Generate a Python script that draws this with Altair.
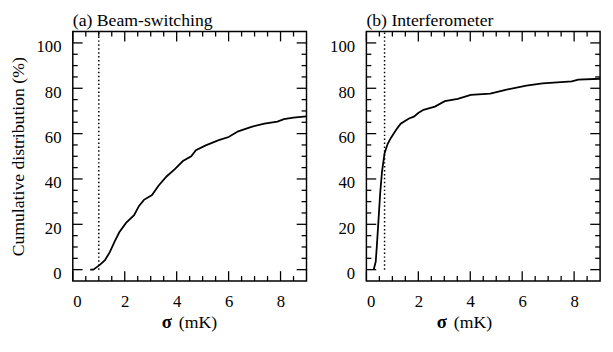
import altair as alt
import pandas as pd

# ---- data ----
sigma_a = [0.67, 0.79, 1.04, 1.23, 1.42, 1.61, 1.79, 2.05, 2.36, 2.55, 2.74, 3.05, 3.30,
           3.61, 3.93, 4.24, 4.56, 4.74, 5.12, 5.62, 6.00, 6.37, 6.88, 7.38, 7.88, 8.13,
           8.50, 8.89, 9.00]
cum_a = [0.0, 0.0, 2.1, 4.1, 7.6, 12.4, 16.5, 20.6, 24.0, 28.1, 30.8, 32.9, 37.0,
         41.1, 44.3, 47.9, 50.0, 52.7, 54.8, 57.1, 58.5, 61.0, 63.0, 64.4, 65.3, 66.4,
         67.1, 67.5, 67.6]

sigma_b = [0.28, 0.36, 0.41, 0.47, 0.53, 0.60, 0.70, 0.82, 0.95, 1.14, 1.32, 1.64, 1.83,
           2.01, 2.20, 2.64, 3.02, 3.52, 4.02, 4.77, 5.40, 6.16, 6.78, 7.91, 8.16, 9.00]
cum_b = [0.0, 3.5, 11.7, 22.6, 33.6, 43.1, 51.4, 55.5, 58.2, 61.6, 64.4, 66.7, 67.5,
         69.2, 70.5, 71.9, 74.3, 75.3, 77.1, 77.6, 79.4, 81.2, 82.2, 83.0, 83.8, 84.2]

threshold_a = 1.0
threshold_b = 0.7

titles = ["(a) Beam-switching", "(b) Interferometer"]
x_title_sym = "σ"
x_title_unit = "(mK)"
y_title = "Cumulative distribution (%)"

x_major = [0, 2, 4, 6, 8]
x_minor = [0.5, 1, 1.5, 2.5, 3, 3.5, 4.5, 5, 5.5, 6.5, 7, 7.5, 8.5]
y_major = [0, 20, 40, 60, 80, 100]
y_minor = [5, 10, 15, 25, 30, 35, 45, 50, 55, 65, 70, 75, 85, 90, 95]
x_domain = [0, 9]
y_domain = [-5, 105]

W, H = 238, 254
FONT = "Liberation Serif"


def panel(sig, cum, thr, title, show_ytitle, sym_right):
    xs = alt.Scale(domain=x_domain, nice=False, zero=False)
    ys = alt.Scale(domain=y_domain, nice=False, zero=False)
    xaxis = alt.Axis(values=x_major, ticks=False, domain=False, grid=False,
                     labelPadding=13, title=None)
    yaxis = alt.Axis(values=y_major, ticks=False, domain=False, grid=False,
                     labelPadding=12, labelOffset=4, titlePadding=9,
                     title=y_title if show_ytitle else None)

    def X():
        return alt.X("sigma:Q", scale=xs, axis=xaxis)

    def Y():
        return alt.Y("cum:Q", scale=ys, axis=yaxis)

    df = pd.DataFrame({"sigma": sig, "cum": cum})
    line = alt.Chart(df).mark_line(color="black", strokeWidth=1.8).encode(x=X(), y=Y())

    thr_df = pd.DataFrame({"sigma": [thr], "cum": [0], "cum2": [y_domain[1]]})
    dotted = alt.Chart(thr_df).mark_rule(color="black", strokeWidth=1.5,
                                         strokeDash=[1.5, 2.5]).encode(
        x=X(), y=Y(), y2="cum2:Q")

    layers = [line, dotted]
    for vals, ln in ((x_major, 10), (x_minor, 5)):
        tdf = pd.DataFrame({"sigma": vals})
        for y0, y1 in ((H, H - ln), (0, ln)):
            layers.append(alt.Chart(tdf).mark_rule(color="black", strokeWidth=1.3).encode(
                x=X(), y=alt.value(y0), y2=alt.value(y1)))
    for vals, ln in ((y_major, 10), (y_minor, 5)):
        tdf = pd.DataFrame({"cum": vals})
        for x0, x1 in ((0, ln), (W, W - ln)):
            layers.append(alt.Chart(tdf).mark_rule(color="black", strokeWidth=1.3).encode(
                y=Y(), x=alt.value(x0), x2=alt.value(x1)))

    lab = pd.DataFrame({"s": [x_title_sym], "u": [x_title_unit]})
    sym = alt.Chart(lab).mark_text(font=FONT, fontSize=19, fontWeight="bold",
                                   align="right", baseline="alphabetic",
                                   color="black").encode(
        text="s:N", x=alt.value(sym_right), y=alt.value(H + 48))
    unit = alt.Chart(lab).mark_text(font=FONT, fontSize=18, align="left",
                                    baseline="alphabetic", color="black").encode(
        text="u:N", x=alt.value(sym_right + 7), y=alt.value(H + 48))
    layers += [sym, unit]

    return alt.layer(*layers).properties(
        width=W, height=H,
        title=alt.TitleParams(text=title, anchor="start", frame="group"),
    )


left = panel(sigma_a, cum_a, threshold_a, titles[0], True, 101)
right = panel(sigma_b, cum_b, threshold_b, titles[1], False, 82)

chart = alt.hconcat(left, right, spacing=17, padding=0).configure_view(
    stroke="black", strokeWidth=1.5
).configure_axis(
    labelFont=FONT, labelFontSize=17, labelColor="black",
    titleFont=FONT, titleFontSize=18, titleFontWeight="normal", titleColor="black",
).configure_title(
    font=FONT, fontSize=18, fontWeight="normal", color="black", offset=1,
)

chart.save("out.html", embed_options={"renderer": "svg", "actions": False})
